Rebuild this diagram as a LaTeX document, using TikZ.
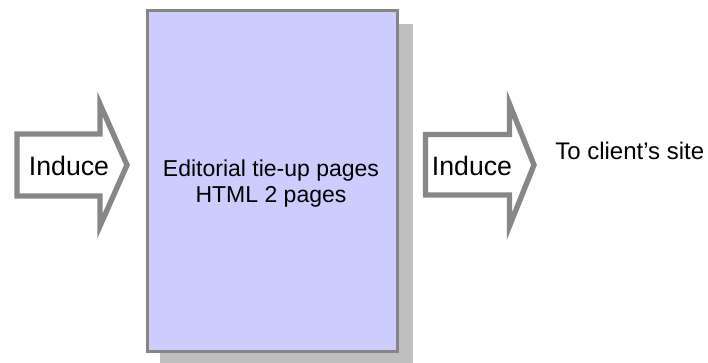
\documentclass[tikz,border=0pt]{standalone}
\usepackage{fontspec}
\setmainfont{Liberation Sans}
\usepackage{tikz}
\usetikzlibrary{calc}
\definecolor{pagefill}{HTML}{CCCCFF}
\definecolor{framegray}{HTML}{858585}
\definecolor{shadowgray}{HTML}{BFBFBF}
\definecolor{arrowgray}{HTML}{878787}

\begin{document}
\begin{tikzpicture}[x=0.75pt, y=-0.75pt,
  blockarrow/.style={draw=arrowgray, line width=4pt, fill=white},
  label/.style={inner sep=0pt, font=\fontsize{20}{24}\selectfont}]
\useasboundingbox (0,0) rectangle (708,363);
% page with its shadow
\fill[shadowgray] (160,24) rectangle (413,363);
\node[draw=framegray, fill=pagefill, line width=1.9pt, anchor=north west,
      minimum width=187.5pt, minimum height=255.75pt, inner sep=0pt] at (146,9.5) (page) {};
\node[inner sep=0pt, align=center, font=\fontsize{17.25}{19}\selectfont] at (271,183.5) (pagetext)
  {Editorial tie-up pages\\HTML 2 pages};
% left arrow
\draw[blockarrow] (17,134) -- (100,134) -- (100,104) -- (127,165) -- (100,226) -- (100,196) -- (17,196) -- cycle;
\node[label, anchor=base] at (69,176) (indL) {Induce};
% right arrow
\draw[blockarrow] (425.5,134.5) -- (509.5,134.5) -- (509.5,104) -- (534,165) -- (509.5,226) -- (509.5,195) -- (425.5,195) -- cycle;
\node[label, anchor=base] at (472,176) (indR) {Induce};
\node[inner sep=0pt, anchor=base west, font=\fontsize{18}{22}\selectfont] at (555,160) (site) {To client’s site};
\end{tikzpicture}
\end{document}
